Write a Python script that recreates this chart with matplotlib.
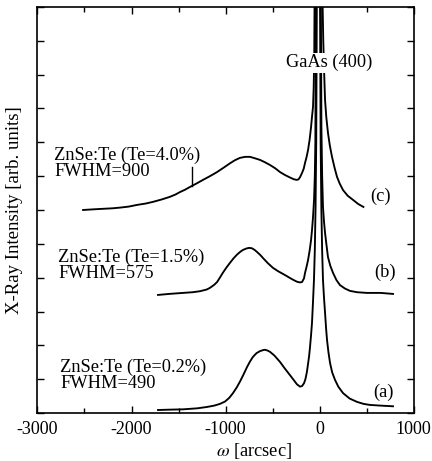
import matplotlib
matplotlib.use("Agg")
import matplotlib.pyplot as plt

plt.rcParams['font.family'] = ['Liberation Serif', 'DejaVu Serif']
plt.rcParams['mathtext.fontset'] = 'stix'

# ---- data (omega in arcsec, intensity in arb. units) ----
w_a = [-1718, -1600, -1452, -1300, -1197, -1120, -1060, -1005, -960, -920, -880,
       -846, -810, -771, -740, -708, -670, -633, -600, -580, -555, -527, -480,
       -420, -370, -314, -270, -240, -207, -185, -165, -150, -135, -122, -110,
       -101, -90, -80, -69, -59, -50, -42, -35, -28, -12, 5, 12, 20, 28, 37, 48,
       59, 70, 80, 95, 112, 135, 165, 200, 250, 320, 399, 470, 537, 650, 782]
i_a = [0.09, 0.10, 0.11, 0.14, 0.18, 0.22, 0.27, 0.34, 0.45, 0.59, 0.76,
       0.93, 1.13, 1.36, 1.52, 1.66, 1.77, 1.83, 1.86, 1.87, 1.85, 1.81, 1.70,
       1.51, 1.32, 1.12, 0.96, 0.85, 0.78, 0.80, 0.88, 1.00, 1.20, 1.45, 1.70,
       1.95, 2.30, 2.66, 3.30, 3.93, 4.80, 6.10, 8.00, 12.5, 14.0, 12.5, 8.0, 6.0, 4.8, 3.93, 3.40,
       2.96, 2.50, 2.16, 1.80, 1.48, 1.20, 0.98, 0.78, 0.59, 0.43, 0.33, 0.27, 0.24, 0.22, 0.20]

w_b = [-1718, -1600, -1452, -1350, -1271, -1200, -1165, -1120, -1090, -1060,
       -1027, -990, -952, -915, -878, -845, -814, -780, -750, -720, -690, -665,
       -630, -601, -550, -495, -440, -388, -350, -314, -275, -239, -210, -186,
       -165, -154, -138, -122, -105, -90, -80, -69, -58, -50, -44, -38, -12, 14,
       20, 28, 37, 48, 59, 75, 90, 115, 144, 180, 218, 270, 324, 400, 505, 650, 782]
i_b = [3.49, 3.52, 3.55, 3.57, 3.60, 3.65, 3.70, 3.79, 3.87, 4.00,
       4.15, 4.30, 4.44, 4.57, 4.68, 4.76, 4.82, 4.86, 4.88, 4.87, 4.82, 4.76,
       4.67, 4.58, 4.43, 4.29, 4.19, 4.11, 4.05, 3.99, 3.93, 3.88, 3.86, 3.87,
       3.98, 4.14, 4.32, 4.52, 4.80, 5.11, 5.40, 5.79, 6.30, 7.00, 8.00, 12.5, 14.0, 12.5,
       8.5, 7.0, 6.09, 5.65, 5.32, 4.95, 4.61, 4.35, 4.14, 3.93, 3.78, 3.68, 3.61, 3.57, 3.55, 3.55, 3.52]

w_c = [-2515, -2400, -2335, -2200, -2122, -2030, -1941, -1850, -1771, -1680,
       -1590, -1530, -1484, -1430, -1378, -1310, -1239, -1165, -1090, -1020,
       -952, -900, -846, -790, -739, -690, -633, -580, -527, -470, -420, -365,
       -314, -275, -245, -225, -207, -185, -168, -154, -138, -122, -105, -90,
       -80, -69, -62, -56, -52, -12, 30, 40, 50, 59, 72, 90, 110, 133, 160, 186,
       215, 250, 300, 356, 410, 467]
i_c = [6.00, 6.02, 6.03, 6.05, 6.07, 6.10, 6.15, 6.19, 6.24, 6.31,
       6.39, 6.46, 6.53, 6.60, 6.68, 6.78, 6.89, 7.00, 7.12, 7.25,
       7.38, 7.47, 7.54, 7.57, 7.57, 7.53, 7.48, 7.41, 7.33, 7.23, 7.12, 7.03,
       6.96, 6.91, 6.89, 6.90, 6.97, 7.10, 7.22, 7.39, 7.56, 7.77, 8.08, 8.45,
       8.75, 9.05, 9.60, 10.5, 12.5, 14.0, 12.5, 11.0, 10.0, 9.25, 8.75, 8.28, 7.90, 7.57, 7.25, 6.98,
       6.78, 6.59, 6.42, 6.30, 6.18, 6.09]

marker_w = [-1360, -1360]
marker_i = [6.72, 7.27]

sample_labels = ["ZnSe:Te (Te=0.2%)\nFWHM=490",
                 "ZnSe:Te (Te=1.5%)\nFWHM=575",
                 "ZnSe:Te (Te=4.0%)\nFWHM=900"]
sample_label_pos = [(-2760, 1.12), (-2782, 4.37), (-2824, 7.38)]
curve_tags = ["(a)", "(b)", "(c)"]
curve_tag_pos = [(676, 0.62), (697, 4.17), (644, 6.39)]
xticks = [-3000, -2000, -1000, 0, 1000]

# ---- figure ----
fig = plt.figure(figsize=(4.32, 4.61), dpi=100)
ax = fig.add_axes([0.0868, 0.104, 0.8704, 0.881])

for w, i in [(w_a, i_a), (w_b, i_b), (w_c, i_c)]:
    ax.plot(w, i, color='black', lw=1.35, solid_joinstyle='round')
ax.plot(marker_w, marker_i, color='black', lw=1.0)

ax.set_xlim(-3000, 1000)
ax.set_ylim(0, 12)
ax.set_xticks(xticks)
ax.set_xticklabels([str(t) for t in xticks])
ax.set_xticks(range(-2500, 1000, 1000), minor=True)
ax.set_yticks(range(0, 13))
ax.set_yticklabels([])
ax.tick_params(which='both', direction='in', top=True, right=True, labelsize=13,
               width=1.0, pad=6)
ax.tick_params(which='major', length=5)
ax.tick_params(which='minor', length=3.5)
for s in ax.spines.values():
    s.set_linewidth(1.2)

for txt, (x, y) in zip(sample_labels, sample_label_pos):
    ax.text(x, y, txt, fontsize=13.2, ha='left', va='center', linespacing=0.95)
for txt, (x, y) in zip(curve_tags, curve_tag_pos):
    ax.text(x, y, txt, fontsize=13.2, ha='center', va='center')
ax.text(101, 10.35, "GaAs (400)", fontsize=13.2, ha='center', va='center',
        bbox=dict(facecolor='white', edgecolor='none', pad=1.0))

ax.set_xlabel(r"$\omega$ [arcsec]", fontsize=13.2)
ax.xaxis.set_label_coords(0.576, -0.068)
ax.set_ylabel("X-Ray Intensity [arb. units]", fontsize=13.5)
ax.yaxis.set_label_coords(-0.038, 0.5)

fig.savefig("out.png", dpi=100)
